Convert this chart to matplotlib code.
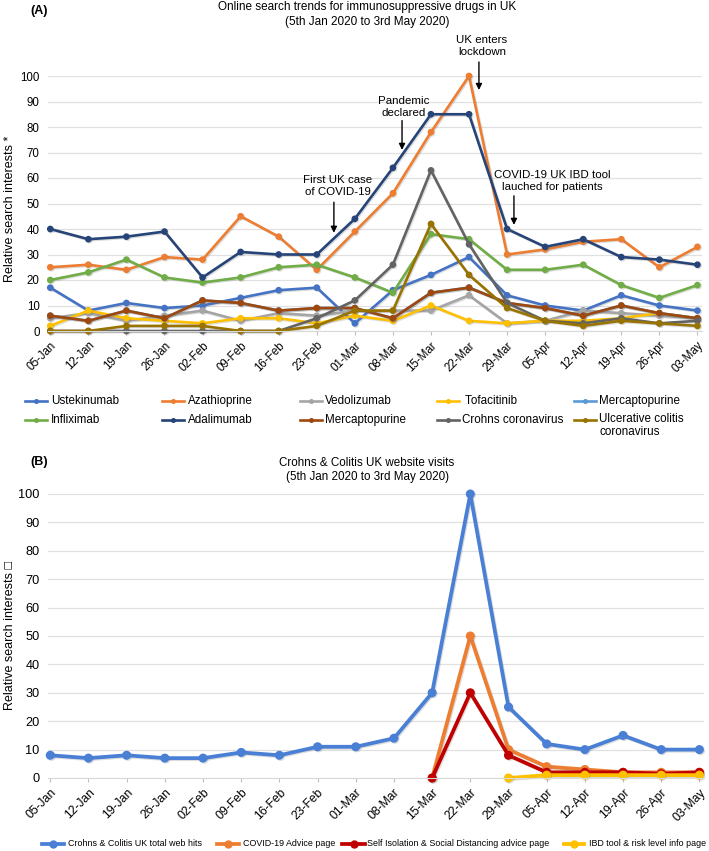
import matplotlib
matplotlib.use("Agg")
import matplotlib.pyplot as plt
import matplotlib.patheffects as pe
from matplotlib.lines import Line2D
from matplotlib import font_manager
import numpy as np

plt.rcParams['font.family'] = ['Liberation Sans', 'DejaVu Sans']

dates = ['05-Jan', '12-Jan', '19-Jan', '26-Jan', '02-Feb', '09-Feb', '16-Feb', '23-Feb',
         '01-Mar', '08-Mar', '15-Mar', '22-Mar', '29-Mar', '05-Apr', '12-Apr', '19-Apr',
         '26-Apr', '03-May']

# Panel A series
ustekinumab = [17, 8, 11, 9, 10, 13, 16, 17, 3, 16, 22, 29, 14, 10, 8, 14, 10, 8]
azathioprine = [25, 26, 24, 29, 28, 45, 37, 24, 39, 54, 78, 100, 30, 32, 35, 36, 25, 33]
vedolizumab = [5, 7, 4, 6, 8, 4, 7, 6, 8, 8, 8, 14, 3, 4, 8, 7, 6, 5]
tofacitinib = [2, 8, 5, 4, 3, 5, 5, 3, 6, 4, 10, 4, 3, 4, 4, 5, 7, 5]
infliximab = [20, 23, 28, 21, 19, 21, 25, 26, 21, 15, 38, 36, 24, 24, 26, 18, 13, 18]
adalimumab = [40, 36, 37, 39, 21, 31, 30, 30, 44, 64, 85, 85, 40, 33, 36, 29, 28, 26]
mercaptopurine = [6, 4, 8, 5, 12, 11, 8, 9, 9, 5, 15, 17, 11, 9, 6, 10, 7, 5]
mercaptopurine_2 = [6, 4, 8, 5, 12, 11, 8, 9, 9, 5, 15, 17, 11, 9, 6, 10, 7, 5]
crohns_cov = [0, 0, 0, 0, 0, 0, 0, 5, 12, 26, 63, 34, 11, 4, 3, 5, 3, 4]
uc_cov = [0, 0, 2, 2, 2, 0, 0, 2, 8, 8, 42, 22, 9, 4, 2, 4, 3, 2]

labels_a = ['Ustekinumab', 'Azathioprine', 'Vedolizumab', ' Tofacitinib', 'Mercaptopurine',
            'Infliximab', 'Adalimumab', 'Mercaptopurine', 'Crohns coronavirus',
            'Ulcerative colitis\ncoronavirus']
series_a = [ustekinumab, azathioprine, vedolizumab, tofacitinib, mercaptopurine_2,
            infliximab, adalimumab, mercaptopurine, crohns_cov, uc_cov]
colors_a = ['#4472C4', '#ED7D31', '#A5A5A5', '#FFC000', '#5B9BD5',
            '#70AD47', '#264478', '#9E480E', '#636363', '#997300']

# Panel B series (None = no data)
web_hits = [8, 7, 8, 7, 7, 9, 8, 11, 11, 14, 30, 100, 25, 12, 10, 15, 10, 10]
advice_page = [None] * 10 + [0, 50, 10, 4, 3, 2, 2, 2]
self_isolation = [None] * 10 + [0, 30, 8, 2, 2, 2, 1.5, 2]
ibd_tool = [None] * 12 + [0, 1, 1, 1, 1, 1]
labels_b = ['Crohns & Colitis UK total web hits', 'COVID-19 Advice page',
            'Self Isolation & Social Distancing advice page', 'IBD tool & risk level info page']
series_b = [web_hits, advice_page, self_isolation, ibd_tool]
colors_b = ['#4A7FD6', '#ED7D31', '#C00000', '#FFC000']

W, H = 709, 851
fig = plt.figure(figsize=(W / 100, H / 100), dpi=100)
renderer = fig.canvas.get_renderer()

REG = ['Liberation Sans', 'DejaVu Sans']
has_narrow = any('Narrow' in f.name for f in font_manager.fontManager.ttflist)
NAR = ['Liberation Sans Narrow', 'Liberation Sans', 'DejaVu Sans'] if has_narrow else REG

def fit(text, target_px, family, base=10.0):
    t = fig.text(0, 0, text, fontsize=base, family=family)
    w = t.get_window_extent(renderer).width
    t.remove()
    return base * target_px / w

def fx(px):
    return px / W

def fy(py):
    return 1 - py / H

def ax_rect(x0, x1, ytop, ybot):
    return [x0 / W, 1 - ybot / H, (x1 - x0) / W, (ybot - ytop) / H]

x = np.arange(len(dates))
shadow = [pe.SimpleLineShadow(offset=(0.8, -0.8), alpha=0.25, shadow_color='#777777'), pe.Normal()]

def style_axis(ax, xfs, yfs, fam):
    ax.set_xlim(-0.06, len(dates) - 1 + 0.12)
    ax.set_ylim(0, 100)
    ax.set_yticks(range(0, 101, 10))
    ax.set_xticks(x)
    ax.set_xticklabels(dates, rotation=45, ha='right', va='top', rotation_mode='anchor',
                       fontsize=xfs, family=fam)
    for t in ax.get_yticklabels():
        t.set_fontsize(yfs)
        t.set_family(fam)
    ax.grid(axis='y', color='#E0E0E0', linewidth=0.9)
    ax.set_axisbelow(True)
    for s in ['top', 'right', 'left']:
        ax.spines[s].set_visible(False)
    ax.spines['bottom'].set_color('#D9D9D9')
    ax.tick_params(axis='y', length=0, pad=6)
    ax.tick_params(axis='x', length=3, color='#BFBFBF', pad=3)

# ---------------- Panel A ----------------
axA = fig.add_axes(ax_rect(48, 702, 76, 331))
for vals, c in zip(series_a, colors_a):
    axA.plot(x, vals, color=c, lw=1.9, marker='o', ms=3.8, clip_on=False, path_effects=shadow)
style_axis(axA, 8.3, 8.3, REG)
ylab_fs = 9.0
axA.set_ylabel('Relative search interests *', fontsize=ylab_fs)
axA.yaxis.set_label_coords((16 - 48) / 654, 0.48)

title_fs = fit('Online search trends for immunosuppressive drugs in UK', 298, REG)
fig.text(fx(367), fy(1), 'Online search trends for immunosuppressive drugs in UK\n(5th Jan 2020 to 3rd May 2020)',
         ha='center', va='top', fontsize=title_fs, linespacing=1.3)
fig.text(fx(30), fy(5), '(A)', ha='left', va='top', fontsize=9, fontweight='bold')

ann_fs = fit('First UK case', 69, REG)
ann = dict(arrowstyle='-|>', color='black', lw=1.0, mutation_scale=9, shrinkA=0, shrinkB=0)
def annotate(text, tx, ty, ax_x, tail, tip):
    axA.annotate('', xy=(ax_x, tip), xytext=(ax_x, tail), arrowprops=ann, annotation_clip=False)
    axA.text(tx, ty, text, ha='center', va='bottom', fontsize=ann_fs, linespacing=1.3, clip_on=False)

annotate('First UK case\nof COVID-19', 7.55, 52.5, 7.45, 50.5, 38.5)
annotate('Pandemic\ndeclared', 9.29, 83.5, 9.24, 82.5, 71)
annotate('UK enters\nlockdown', 11.34, 107.3, 11.26, 105.5, 94.5)
annotate('COVID-19 UK IBD tool\nlauched for patients', 13.2, 54.5, 12.18, 53, 41.6)

# Legend A (manual, 5 columns x 2 rows)
def legend_entry(hx0, hx1, y, color, label, tx, fs, lw, ms, fam):
    fig.add_artist(Line2D([fx(hx0), fx(hx1)], [fy(y), fy(y)], transform=fig.transFigure,
                          color=color, lw=lw))
    fig.add_artist(Line2D([fx((hx0 + hx1) / 2)], [fy(y)], transform=fig.transFigure,
                          color=color, marker='o', ms=ms, lw=0))
    if '\n' in label:
        fig.text(fx(tx), fy(y - 7.5), label, ha='left', va='top', fontsize=fs, family=fam,
                 linespacing=1.15)
    else:
        fig.text(fx(tx), fy(y), label, ha='left', va='center', fontsize=fs, family=fam)

legA_fs = fit('Ustekinumab', 68, REG)
hstart = [25, 162, 300, 437, 574]
tstart = [51, 188, 325, 462, 599]
rows = [401, 420]
for k, (c, lab) in enumerate(zip(colors_a, labels_a)):
    col, row = k % 5, k // 5
    legend_entry(hstart[col], hstart[col] + 22, rows[row], c, lab, tstart[col],
                 legA_fs, 1.9, 2.6, REG)

# ---------------- Panel B ----------------
axB = fig.add_axes(ax_rect(48, 704, 494, 778))
for vals, c in zip(series_b, colors_b):
    v = np.array([np.nan if a is None else a for a in vals], dtype=float)
    axB.plot(x, v, color=c, lw=2.7, marker='o', ms=5.5, clip_on=False, path_effects=shadow)
tickB_fs = fit('05-Jan', 37, NAR)
style_axis(axB, tickB_fs, tickB_fs * 1.05, NAR)
axB.set_ylabel('Relative search interests \u25a1', fontsize=ylab_fs)
axB.yaxis.set_label_coords((16 - 48) / 656, 0.5)

titleB_fs = fit('Crohns & Colitis UK website visits', 174, NAR)
fig.text(fx(367), fy(457), 'Crohns & Colitis UK website visits\n(5th Jan 2020 to 3rd May 2020)',
         ha='center', va='top', fontsize=titleB_fs, linespacing=1.25, family=NAR)
fig.text(fx(30), fy(456), '(B)', ha='left', va='top', fontsize=9, fontweight='bold')

legB_fs = fit('IBD tool & risk level info page', 117, NAR)
hB = [(42, 64), (217, 239), (342, 365), (564, 584)]
tB = [68, 243, 367, 589]
for (h0, h1), t, c, lab in zip(hB, tB, colors_b, labels_b):
    legend_entry(h0, h1, 844, c, lab, t, legB_fs, 2.7, 5, NAR)

fig.savefig('out.png', dpi=100)
